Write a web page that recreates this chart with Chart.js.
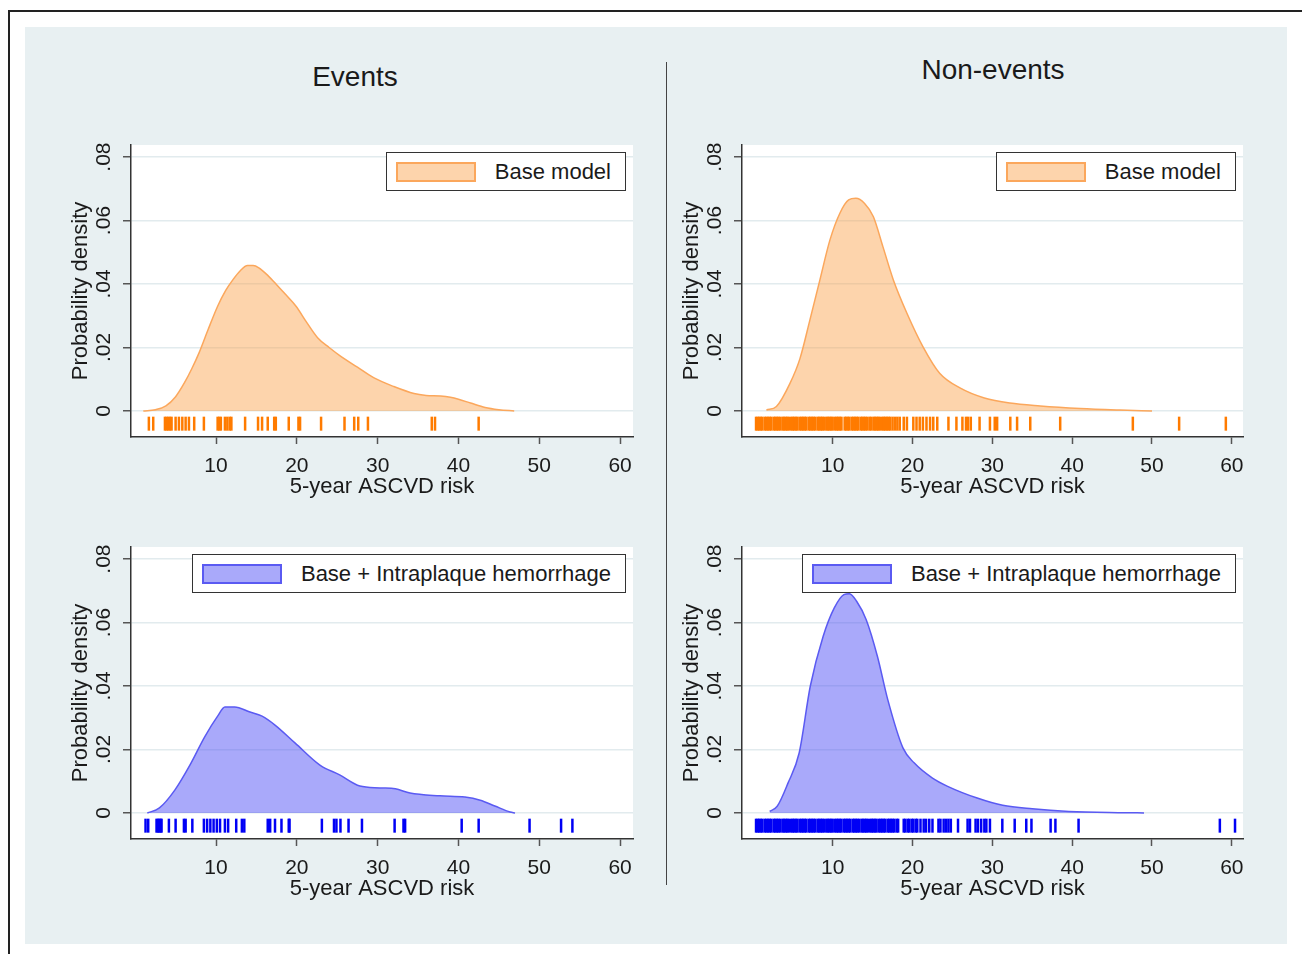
<!DOCTYPE html>
<html>
<head>
<meta charset="utf-8">
<script src="https://cdn.jsdelivr.net/npm/chart.js@4.4.1/dist/chart.umd.min.js"></script>
<style>
  body { margin: 0; background: #fff; overflow: hidden; width: 1302px; height: 954px; position: relative; font-family: "Liberation Sans", Arial, sans-serif; color: #1a1a1a; }
  #frame { position: absolute; left: 8px; top: 10px; width: 1400px; height: 1000px; border-top: 2.5px solid #222; border-left: 2.5px solid #222; }
  #bg { position: absolute; left: 25px; top: 27px; width: 1262px; height: 917px; background: #e8f0f2; }
  .head { position: absolute; width: 300px; text-align: center; font-size: 28px; line-height: 34px; }
  #sep { position: absolute; left: 666px; top: 62px; width: 1px; height: 823px; background: #444; }
  .panel { position: absolute; }
  .panel canvas { display: block; }
  .legend { position: absolute; display: flex; align-items: center; height: 39px; box-sizing: border-box;
            border: 1.5px solid #333; background: #fff; padding: 0 14px 0 9px; font-size: 22px; white-space: nowrap; }
  .swatch { width: 80px; height: 20px; box-sizing: border-box; border: 2px solid; margin-right: 19px; }
</style>
</head>
<body>
<div id="frame"></div>
<div id="bg"></div>
<div class="head" style="left:205px;top:60px">Events</div>
<div class="head" style="left:843px;top:53px">Non-events</div>
<div id="sep"></div>

<script>
// AXES
const X_TICKS = [10, 20, 30, 40, 50, 60];
const Y_TICKS = [0, 0.02, 0.04, 0.06, 0.08];
const Y_TICK_LABELS = ["0", ".02", ".04", ".06", ".08"];

// Events - base model (density curve + observed risks)
const evBaseX = [1.0, 2.5, 3.8, 5.0, 6.1, 7.0, 7.9, 9.0, 10.2, 11.2, 12.1, 13.0, 13.9, 14.6, 15.3, 16.2, 17.1, 18.5, 19.9, 21.2, 22.6, 24.0, 25.4, 27.5, 29.5, 32.0, 34.5, 36.0, 37.8, 39.0, 40.0, 41.5, 43.3, 45.0, 46.9];
const evBaseY = [0, 0.0004, 0.0016, 0.0045, 0.0089, 0.0133, 0.0183, 0.0255, 0.033, 0.038, 0.0414, 0.0442, 0.0458, 0.0458, 0.0451, 0.0432, 0.0409, 0.037, 0.033, 0.028, 0.023, 0.020, 0.0173, 0.0138, 0.0105, 0.0077, 0.0055, 0.0049, 0.0047, 0.0043, 0.0037, 0.0025, 0.0011, 0.0004, 0];
const evBaseRug = [1.69, 2.23, 3.68, 3.88, 4.09, 4.3, 4.5, 5.0, 5.41, 5.83, 6.24, 6.65, 7.3, 8.5, 10.2, 10.4, 10.6, 11.1, 11.4, 11.7, 11.9, 13.6, 15.2, 15.7, 16.4, 17.2, 17.4, 19.0, 20.2, 20.4, 23.0, 25.9, 27.1, 27.6, 28.8, 36.7, 37.1, 42.5];

// Events - base + intraplaque hemorrhage
const evIphX = [1.5, 3.0, 4.9, 6.75, 8.6, 10.2, 11.1, 12.3, 14.2, 15.7, 17.3, 19.8, 22.9, 25.3, 27.8, 30.3, 32.2, 34.0, 37.7, 40.8, 42.7, 44.5, 46.4, 47.0];
const evIphY = [0, 0.0016, 0.0072, 0.015, 0.024, 0.0305, 0.0334, 0.0334, 0.0318, 0.0305, 0.0277, 0.022, 0.015, 0.012, 0.0085, 0.0079, 0.0076, 0.0063, 0.0054, 0.005, 0.004, 0.0022, 0.0003, 0];
const evIphRug = [1.28, 1.61, 2.64, 2.81, 2.98, 3.14, 3.26, 4.17, 5.0, 6.03, 6.24, 7.07, 8.5, 8.9, 9.3, 9.7, 10.1, 10.5, 11.1, 11.5, 12.5, 13.2, 13.5, 16.4, 16.7, 17.3, 18.1, 19.0, 19.1, 23.1, 24.6, 24.9, 25.4, 26.4, 28.06, 32.1, 33.2, 33.4, 40.4, 42.5, 48.8, 52.7, 54.1];

// Non-events - base model
const neBaseX = [1.7, 2.95, 4.65, 5.9, 7.15, 8.4, 9.66, 10.9, 12.0, 12.9, 14.0, 15.1, 16.3, 17.6, 19.3, 21.3, 23.4, 26.0, 29.0, 32.2, 36.0, 41.0, 46.0, 50.0];
const neBaseY = [0.0003, 0.0014, 0.0087, 0.0165, 0.0287, 0.0413, 0.0539, 0.0623, 0.0665, 0.067, 0.0654, 0.0612, 0.0517, 0.0413, 0.0308, 0.0203, 0.0119, 0.0072, 0.0041, 0.0025, 0.0016, 0.0008, 0.0003, 0];
const neBaseRug = [0.4, 0.6, 0.8, 1.0, 1.2, 1.5, 1.7, 1.9, 2.1, 2.3, 2.6, 2.8, 3.0, 3.2, 3.4, 3.7, 3.9, 4.1, 4.3, 4.5, 4.8, 5.0, 5.2, 5.4, 5.6, 5.9, 6.1, 6.3, 6.5, 6.7, 7.0, 7.2, 7.4, 7.6, 7.8, 8.1, 8.3, 8.5, 8.7, 8.9, 9.2, 9.4, 9.6, 9.8, 10.0, 10.3, 10.5, 10.7, 10.9, 11.1, 11.5, 11.7, 11.9, 12.1, 12.4, 12.6, 12.8, 13.0, 13.2, 13.5, 13.7, 13.9, 14.1, 14.3, 14.6, 14.8, 15.1, 15.3, 15.5, 15.7, 15.9, 16.2, 16.4, 16.6, 16.8, 17.0,
  17.2, 17.5, 17.8, 18.1, 18.4, 18.9, 19.3, 20.1, 20.5, 20.9, 21.3, 21.75, 22.2, 22.6, 23.1, 24.5, 25.5, 26.25, 26.7, 26.95, 27.3, 28.4, 29.7, 30.3, 30.6, 32.25, 33.1, 34.75, 38.5, 47.6, 53.4, 59.25];

// Non-events - base + intraplaque hemorrhage
const neIphX = [2.1, 3.05, 4.4, 5.8, 7.2, 8.8, 10.2, 11.4, 12.1, 13.0, 14.2, 15.6, 16.9, 18.8, 20.2, 22.5, 24.4, 28.1, 31.3, 35.0, 39.6, 46.6, 49.0];
const neIphY = [0.0005, 0.0021, 0.0094, 0.0189, 0.040, 0.0556, 0.0646, 0.0688, 0.0691, 0.0667, 0.0609, 0.0494, 0.0357, 0.0205, 0.0158, 0.011, 0.0084, 0.0047, 0.0024, 0.0013, 0.0005, 0.0001, 0];
const neIphRug = [0.4, 0.6, 0.8, 1.0, 1.2, 1.5, 1.7, 1.9, 2.1, 2.3, 2.6, 2.8, 3.0, 3.2, 3.4, 3.7, 3.9, 4.1, 4.3, 4.5, 4.8, 5.0, 5.2, 5.4, 5.6, 5.9, 6.1, 6.3, 6.5, 6.7, 7.0, 7.2, 7.4, 7.6, 7.8, 8.1, 8.3, 8.5, 8.7, 8.9, 9.2, 9.4, 9.6, 9.8, 10.0, 10.3, 10.5, 10.7, 10.9, 11.1, 11.4, 11.6, 11.8, 12.0, 12.2, 12.5, 12.7, 12.9, 13.1, 13.3, 13.6, 13.8, 14.0, 14.2, 14.4, 14.7, 14.9, 15.1, 15.3, 15.5, 15.8, 16.0, 16.2, 16.4, 16.6, 16.9, 17.1, 17.3, 17.5, 17.7, 18.0, 18.2,
  18.9, 19.1, 19.4, 19.6, 19.9, 20.1, 20.4, 20.6, 21.0, 21.4, 21.7, 22.1, 22.5, 23.25, 23.5, 23.9, 24.2, 24.5, 24.8, 25.7, 26.9, 27.2, 27.9, 28.2, 28.6, 29.0, 29.25, 29.7, 31.25, 32.8, 34.25, 34.9, 37.3, 37.9, 40.8, 58.5, 60.4];

// STYLE
const INK = "#1a1a1a";
const ORANGE = { fill: "rgba(251,160,70,0.45)", line: "#fba75c", rug: "#ff7b00" };
const BLUE = { fill: "rgba(75,75,245,0.48)", line: "#5a5af2", rug: "#0000f5" };
const AXIS_W = 71, AXIS_H = 68, PAD_TOP = 5, PAD_RIGHT = 17;
const Y_MIN = -0.0082, Y_MAX = 0.0838;
const RUG_Y = -0.004;

Chart.defaults.font.family = '"Liberation Sans", Arial, sans-serif';
Chart.defaults.color = INK;

// white plot region
const plotBg = {
  id: "plotBg",
  beforeDraw(chart) {
    const { ctx, chartArea: a } = chart;
    ctx.save();
    ctx.fillStyle = "#fff";
    ctx.fillRect(a.left, a.top, a.right - a.left, a.bottom - a.top);
    ctx.restore();
  }
};

// Legend drawn as a framed HTML box in the top-right of the plot region
const boxLegend = {
  id: "boxLegend",
  afterUpdate(chart) {
    const wrap = chart.canvas.parentNode;
    let el = wrap.querySelector(".legend");
    if (!el) {
      el = document.createElement("div");
      el.className = "legend";
      wrap.appendChild(el);
    }
    const ds = chart.data.datasets[0];
    el.innerHTML = `<span class="swatch" style="background:${ds.backgroundColor};border-color:${ds.borderColor}"></span><span>${ds.label}</span>`;
    el.style.right = (chart.width - chart.chartArea.right + 7) + "px";
    el.style.top = (chart.chartArea.top + 7) + "px";
  }
};

function zeroPad(s) {
  s.paddingLeft = 0; s.paddingRight = 0; s.paddingTop = 0; s.paddingBottom = 0;
}

function makePanel(p) {
  const [pl, pt, pr, pb] = p.plot;
  const left = pl - AXIS_W, top = pt - PAD_TOP;
  const w = pr - left + PAD_RIGHT, h = pb - top + AXIS_H;

  const wrap = document.createElement("div");
  wrap.className = "panel";
  wrap.style.cssText = `left:${left}px;top:${top}px;width:${w}px;height:${h}px`;
  const canvas = document.createElement("canvas");
  canvas.width = w;
  canvas.height = h;
  wrap.appendChild(canvas);
  document.body.appendChild(wrap);

  new Chart(canvas, {
    type: "line",
    data: {
      datasets: [
        {
          label: p.label,
          data: p.xs.map((x, i) => ({ x, y: p.ys[i] })),
          backgroundColor: p.color.fill,
          borderColor: p.color.line,
          borderWidth: 1.5,
          fill: "origin",
          pointRadius: 0,
          cubicInterpolationMode: "monotone",
        },
        {
          label: "rug",
          data: p.rug.map((x) => ({ x, y: RUG_Y })),
          showLine: false,
          fill: false,
          pointStyle: "line",
          pointRotation: 90,
          pointRadius: 7,
          pointHoverRadius: 7,
          pointBorderWidth: 2.5,
          pointBorderColor: p.color.rug,
          borderColor: p.color.rug,
        },
      ],
    },
    options: {
      responsive: false,
      animation: false,
      events: [],
      layout: { autoPadding: false, padding: { top: PAD_TOP, right: PAD_RIGHT, left: 0, bottom: 0 } },
      plugins: { legend: { display: false }, tooltip: { enabled: false } },
      scales: {
        x: {
          type: "linear",
          min: p.xRange[0],
          max: p.xRange[1],
          afterBuildTicks: (s) => { s.ticks = X_TICKS.map((v) => ({ value: v })); },
          afterFit: (s) => { s.height = AXIS_H; zeroPad(s); },
          ticks: { maxRotation: 0, autoSkip: false, padding: 10, font: { size: 21 }, color: INK, callback: (v) => String(v) },
          grid: { drawOnChartArea: false, tickColor: "#555", tickLength: 7, tickWidth: 1.5 },
          border: { color: "#333", width: 1.5 },
          title: { display: true, text: "5-year ASCVD risk", font: { size: 22 }, color: INK, padding: { top: 0, bottom: 5 } },
        },
        y: {
          type: "linear",
          min: Y_MIN,
          max: Y_MAX,
          afterBuildTicks: (s) => { s.ticks = Y_TICKS.map((v) => ({ value: v })); },
          afterFit: (s) => { s.width = AXIS_W; zeroPad(s); },
          ticks: { minRotation: 90, maxRotation: 90, crossAlign: "center", padding: 4, font: { size: 21 }, color: INK, callback: (v, i) => Y_TICK_LABELS[i] },
          grid: { color: "#e2ebee", lineWidth: 1.5, tickColor: "#555", tickLength: 8, tickWidth: 1.5 },
          border: { color: "#333", width: 1.5 },
          title: { display: true, text: "Probability density", font: { size: 22 }, color: INK, padding: { top: 8, bottom: 0 } },
        },
      },
    },
    plugins: [plotBg, boxLegend],
  });
}

makePanel({ plot: [131, 145, 633, 437], xRange: [-0.52, 61.6], xs: evBaseX, ys: evBaseY, rug: evBaseRug, color: ORANGE, label: "Base model" });
makePanel({ plot: [742, 145, 1243, 437], xRange: [-1.36, 61.4], xs: neBaseX, ys: neBaseY, rug: neBaseRug, color: ORANGE, label: "Base model" });
makePanel({ plot: [131, 547, 633, 839], xRange: [-0.52, 61.6], xs: evIphX, ys: evIphY, rug: evIphRug, color: BLUE, label: "Base + Intraplaque hemorrhage" });
makePanel({ plot: [742, 547, 1243, 839], xRange: [-1.36, 61.4], xs: neIphX, ys: neIphY, rug: neIphRug, color: BLUE, label: "Base + Intraplaque hemorrhage" });
</script>
</body>
</html>
